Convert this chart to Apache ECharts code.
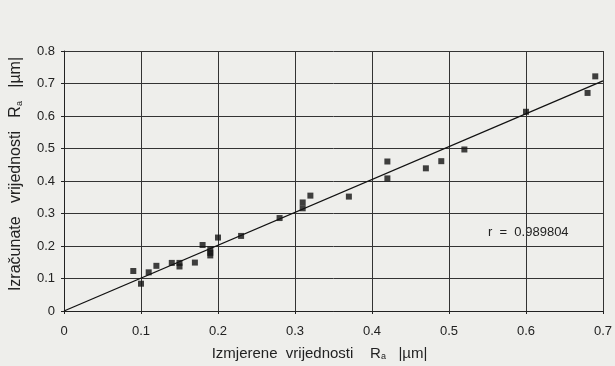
<!DOCTYPE html>
<html><head><meta charset="utf-8">
<script src="https://cdn.jsdelivr.net/npm/echarts@6/dist/echarts.min.js"></script>
<style>html,body{margin:0;padding:0;background:#eeeeeb}#c{width:615px;height:366px}</style>
</head><body><div id="c"></div>
<script>
var measured = [0.09,0.10,0.11,0.12,0.14,0.15,0.15,0.17,0.18,0.19,0.19,0.19,0.20,0.23,0.28,0.31,0.31,0.32,0.37,0.42,0.42,0.47,0.49,0.52,0.60,0.68,0.69];
var computed = [0.123,0.084,0.119,0.139,0.148,0.148,0.137,0.149,0.203,0.189,0.179,0.171,0.226,0.231,0.286,0.334,0.316,0.355,0.352,0.408,0.460,0.439,0.461,0.497,0.613,0.671,0.722];
var fitX = [0, 0.7];
var fitY = [0, 0.708];
var xTicks = [0, 0.1, 0.2, 0.3, 0.4, 0.5, 0.6, 0.7];
var yTicks = [0, 0.1, 0.2, 0.3, 0.4, 0.5, 0.6, 0.7, 0.8];
var rText = 'r  =  0.989804';

var pts = measured.map(function(v,i){return [v, computed[i]];});
var fit = fitX.map(function(v,i){return [v, fitY[i]];});
var fnt = 'Liberation Sans, Arial, sans-serif';
var chart = echarts.init(document.getElementById('c'));
chart.setOption({
  backgroundColor: '#eeeeeb',
  animation: false,
  grid: {left: 64, right: 7, top: 51, bottom: 51},
  xAxis: {
    type: 'value', min: 0, max: 0.7, interval: 0.1,
    axisLine: {lineStyle: {color: '#222', width: 1}},
    axisTick: {show: true, length: 3, lineStyle: {color: '#222'}},
    splitLine: {show: true, lineStyle: {color: '#333', width: 1}},
    axisLabel: {color: '#222', fontSize: 13, fontFamily: fnt, margin: 14,
      formatter: function(v){ var r = xTicks.find(function(t){return Math.abs(t-v)<1e-6;}); return r===0?'0':String(r); }},
    name: '{n|Izmjerene  vrijednosti    R}{s|a}{n|   |µm|}', nameLocation: 'middle', nameGap: 35,
    nameTextStyle: {padding: [0, 28, 0, 0], rich: {n: {fontSize: 15, color: '#222', fontFamily: fnt}, s: {fontSize: 9, color: '#222', fontFamily: fnt, verticalAlign: 'bottom', padding: [6,0,0,0]}}}
  },
  yAxis: {
    type: 'value', min: 0, max: 0.8, interval: 0.1,
    axisLine: {show: true, lineStyle: {color: '#222', width: 1}},
    axisTick: {show: true, length: 3, lineStyle: {color: '#222'}},
    splitLine: {show: true, lineStyle: {color: '#333', width: 1}},
    axisLabel: {color: '#222', fontSize: 13, fontFamily: fnt, margin: 9,
      formatter: function(v){ var r = yTicks.find(function(t){return Math.abs(t-v)<1e-6;}); return r===0?'0':String(r); }},
    name: '{n|Izračunate   vrijednosti   R}{s|a}{n|   |µm|}', nameLocation: 'middle', nameGap: 40,
    nameTextStyle: {padding: [0, 0, 0, 14], rich: {n: {fontSize: 16, color: '#222', fontFamily: fnt}, s: {fontSize: 9, color: '#222', fontFamily: fnt, verticalAlign: 'bottom', padding: [6,0,0,0]}}}
  },
  series: [
    {type: 'line', data: fit, symbol: 'none', lineStyle: {color: '#111', width: 1.3}, z: 3},
    {type: 'scatter', data: pts, symbol: 'rect', symbolSize: 6, itemStyle: {color: '#111'}, z: 4}
  ],
  graphic: [{type: 'text', left: 488, top: 226, style: {text: rText, fontSize: 13, fontFamily: fnt, fill: '#222'}}]
});
</script></body></html>
